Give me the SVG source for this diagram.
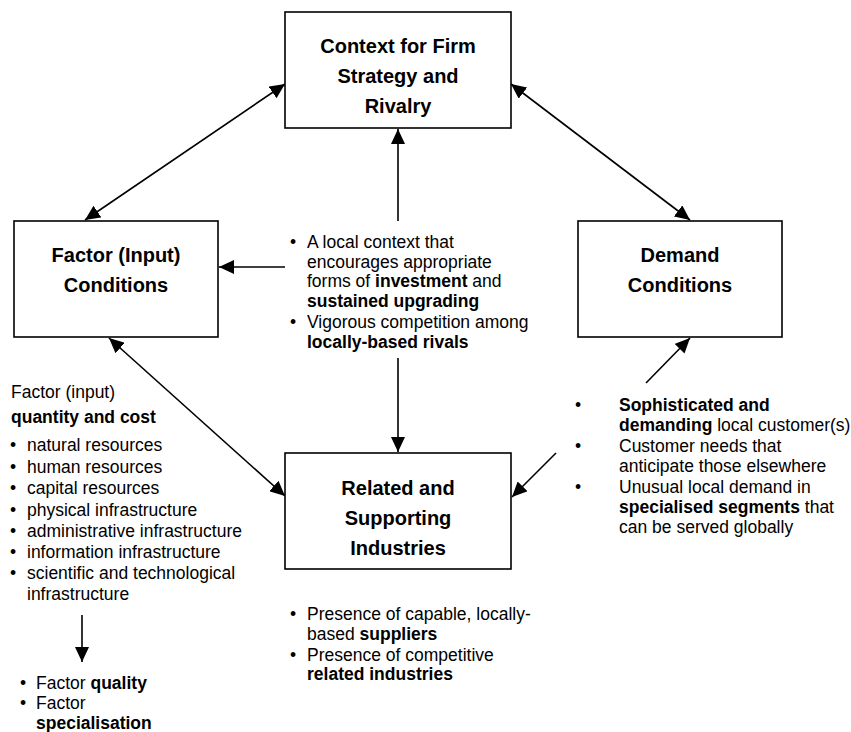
<svg xmlns="http://www.w3.org/2000/svg" width="851" height="732" viewBox="0 0 851 732">
<style>
  text { font-family: "Liberation Sans", Arial, sans-serif; fill: #000; }
  .box { fill: #fff; stroke: #000; stroke-width: 1.6; }
  .title { font-size: 20px; font-weight: bold; text-anchor: middle; }
  .t { font-size: 17.5px; }
  .b { font-weight: bold; }
  .conn line { stroke: #000; stroke-width: 1.6; }
</style>
<defs>
  <marker id="ah" markerUnits="userSpaceOnUse" markerWidth="16" markerHeight="14" viewBox="0 0 16 14" refX="15" refY="7" orient="auto-start-reverse">
    <path d="M0,0 L15,7 L0,14 z" fill="#000"/>
  </marker>
</defs>
<rect width="851" height="732" fill="#fff"/>

<g class="conn">
  <line x1="85" y1="220" x2="285" y2="84" marker-start="url(#ah)" marker-end="url(#ah)"/>
  <line x1="511" y1="84" x2="690" y2="220" marker-start="url(#ah)" marker-end="url(#ah)"/>
  <line x1="398" y1="221" x2="398" y2="129" marker-end="url(#ah)"/>
  <line x1="285" y1="267" x2="219" y2="267" marker-end="url(#ah)"/>
  <line x1="398" y1="358" x2="398" y2="452" marker-end="url(#ah)"/>
  <line x1="109" y1="338" x2="285" y2="496" marker-start="url(#ah)" marker-end="url(#ah)"/>
  <line x1="556" y1="453" x2="512" y2="497" marker-end="url(#ah)"/>
  <line x1="646" y1="383" x2="690" y2="338" marker-end="url(#ah)"/>
  <line x1="82" y1="615" x2="82" y2="662" marker-end="url(#ah)"/>
</g>

<g id="context">
  <rect class="box" x="285" y="12" width="226" height="116"/>
  <text class="title" x="398" y="53">Context for Firm</text>
  <text class="title" x="398" y="83">Strategy and</text>
  <text class="title" x="398" y="113">Rivalry</text>
</g>

<g id="factor">
  <rect class="box" x="14" y="221" width="204" height="116"/>
  <text class="title" x="116" y="262">Factor (Input)</text>
  <text class="title" x="116" y="292">Conditions</text>
</g>

<g id="demand">
  <rect class="box" x="578" y="221" width="204" height="116"/>
  <text class="title" x="680" y="262">Demand</text>
  <text class="title" x="680" y="292">Conditions</text>
</g>

<g id="related">
  <rect class="box" x="285" y="453" width="226" height="116"/>
  <text class="title" x="398" y="495">Related and</text>
  <text class="title" x="398" y="525">Supporting</text>
  <text class="title" x="398" y="555">Industries</text>
</g>

<g id="context-notes" class="t">
  <text class="t" x="290" y="248">•</text>
  <text class="t" x="307" y="248">A local context that</text>
  <text class="t" x="307" y="267.5">encourages appropriate</text>
  <text class="t" x="307" y="287">forms of <tspan class="b">investment</tspan> and</text>
  <text class="t" x="307" y="306.5"><tspan class="b">sustained upgrading</tspan></text>
  <text class="t" x="290" y="328">•</text>
  <text class="t" x="307" y="328">Vigorous competition among</text>
  <text class="t" x="307" y="347.5"><tspan class="b">locally-based rivals</tspan></text>
</g>

<g id="factor-notes">
  <text class="t" x="11" y="398">Factor (input)</text>
  <text class="t b" x="11" y="423">quantity and cost</text>
  <text class="t" x="10" y="451">•</text><text class="t" x="27" y="451">natural resources</text>
  <text class="t" x="10" y="472.5">•</text><text class="t" x="27" y="472.5">human resources</text>
  <text class="t" x="10" y="494">•</text><text class="t" x="27" y="494">capital resources</text>
  <text class="t" x="10" y="515.5">•</text><text class="t" x="27" y="515.5">physical infrastructure</text>
  <text class="t" x="10" y="537">•</text><text class="t" x="27" y="537">administrative infrastructure</text>
  <text class="t" x="10" y="558">•</text><text class="t" x="27" y="558">information infrastructure</text>
  <text class="t" x="10" y="579">•</text><text class="t" x="27" y="579">scientific and technological</text>
  <text class="t" x="27" y="600">infrastructure</text>
</g>

<g id="factor-quality">
  <text class="t" x="20" y="689">•</text><text class="t" x="36" y="689">Factor <tspan class="b">quality</tspan></text>
  <text class="t" x="20" y="709">•</text><text class="t" x="36" y="709">Factor</text>
  <text class="t b" x="36" y="729">specialisation</text>
</g>

<g id="demand-notes">
  <text class="t" x="575" y="411">•</text>
  <text class="t b" x="619" y="411">Sophisticated and</text>
  <text class="t" x="619" y="431"><tspan class="b">demanding</tspan> local customer(s)</text>
  <text class="t" x="575" y="452">•</text>
  <text class="t" x="619" y="452">Customer needs that</text>
  <text class="t" x="619" y="471.5">anticipate those elsewhere</text>
  <text class="t" x="575" y="493">•</text>
  <text class="t" x="619" y="493">Unusual local demand in</text>
  <text class="t" x="619" y="513"><tspan class="b">specialised segments</tspan> that</text>
  <text class="t" x="619" y="533">can be served globally</text>
</g>

<g id="related-notes">
  <text class="t" x="290" y="620">•</text>
  <text class="t" x="307" y="620">Presence of capable, locally-</text>
  <text class="t" x="307" y="640">based <tspan class="b">suppliers</tspan></text>
  <text class="t" x="290" y="661">•</text>
  <text class="t" x="307" y="661">Presence of competitive</text>
  <text class="t b" x="307" y="680">related industries</text>
</g>
</svg>
